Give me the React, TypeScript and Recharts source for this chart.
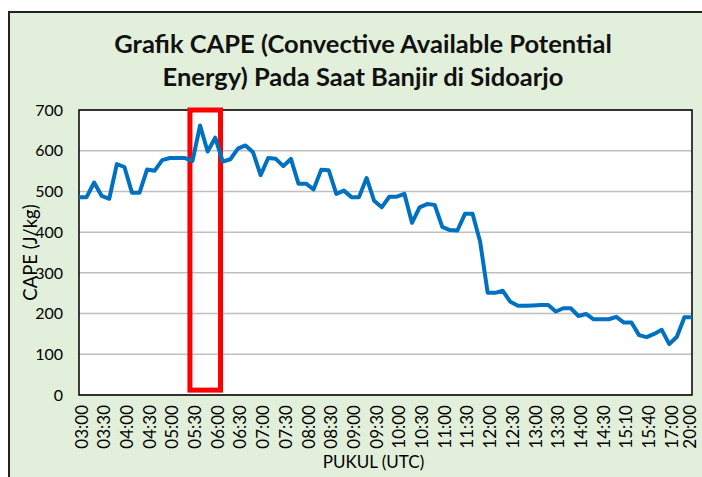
import React from 'react';
import { LineChart, Line, XAxis, YAxis, CartesianGrid, ReferenceArea, Label } from 'recharts';

// 10-minute steps until 14:30, irregular afterwards (only every 3rd one is labelled)
const times = [
  '03:00', '03:10', '03:20', '03:30', '03:40', '03:50', '04:00', '04:10', '04:20', '04:30',
  '04:40', '04:50', '05:00', '05:10', '05:20', '05:30', '05:40', '05:50', '06:00', '06:10',
  '06:20', '06:30', '06:40', '06:50', '07:00', '07:10', '07:20', '07:30', '07:40', '07:50',
  '08:00', '08:10', '08:20', '08:30', '08:40', '08:50', '09:00', '09:10', '09:20', '09:30',
  '09:40', '09:50', '10:00', '10:10', '10:20', '10:30', '10:40', '10:50', '11:00', '11:10',
  '11:20', '11:30', '11:40', '11:50', '12:00', '12:10', '12:20', '12:30', '12:40', '12:50',
  '13:00', '13:10', '13:20', '13:30', '13:40', '13:50', '14:00', '14:10', '14:20', '14:30',
  '14:40', '14:50', '15:10', '15:20', '15:30', '15:40', '16:00', '16:30', '17:00', '18:00',
  '19:00', '20:00',
];

const cape = [
  486, 486, 522, 489, 482, 567, 560, 497, 497, 554,
  551, 577, 582, 582, 582, 575, 662, 598, 632, 573,
  579, 605, 613, 596, 540, 582, 580, 562, 580, 519,
  519, 505, 553, 552, 494, 502, 486, 486, 533, 477,
  461, 487, 487, 494, 423, 461, 469, 467, 413, 405,
  404, 445, 445, 377, 251, 251, 256, 229, 219, 219,
  220, 221, 221, 205, 213, 213, 194, 199, 186, 186,
  186, 192, 178, 178, 147, 142, 150, 160, 125, 143,
  191, 191,
];

const yTicks = [0, 100, 200, 300, 400, 500, 600, 700];

// highlighted window (05:30 - 06:00)
const boxFrom = '05:30';
const boxTo = '06:00';

const data = times.map((t, i) => ({ time: t, cape: cape[i] }));

const FONT = 'Lato, "Open Sans", sans-serif';

function TimeTick({ x, y, payload }: any) {
  // small nudge right, but keep the last label inside the window
  const cx = Math.min(x + 2, 679);
  return (
    <text
      x={cx}
      y={y}
      transform={`rotate(-90, ${cx}, ${y})`}
      textAnchor="end"
      dominantBaseline="central"
      fontSize={17}
      fontFamily={FONT}
      fill="#000"
    >
      {payload.value}
    </text>
  );
}

function HighlightBox(props: any) {
  const { x, y, width, height } = props;
  return (
    <rect x={x - 2.6} y={y} width={width + 7.9} height={height} fill="none" stroke="#FF0000" strokeWidth={5} />
  );
}

export default function App() {
  return (
    <div style={{ position: 'fixed', left: 8, top: 11, width: 694, height: 466, overflow: 'hidden' }}>
      <div
        style={{
          position: 'relative',
          width: 720,
          height: 520,
          border: '2px solid #222',
          background: '#E2EFDA',
          fontFamily: FONT,
        }}
      >
        <div
          style={{
            position: 'absolute',
            left: 0,
            top: 14,
            width: 706,
            textAlign: 'center',
            fontSize: 25.5,
            fontWeight: 700,
            lineHeight: '33px',
            color: '#111',
          }}
        >
          Grafik CAPE (Convective Available Potential
          <br />
          Energy) Pada Saat Banjir di Sidoarjo
        </div>
        <div style={{ position: 'absolute', left: 0, top: 0 }}>
          <LineChart width={700} height={464} data={data} margin={{ top: 97, right: 18, left: 0, bottom: 22 }}>
            <CartesianGrid vertical={false} stroke="#BFBFBF" strokeWidth={1.5} fill="#FFFFFF" />
            <XAxis
              dataKey="time"
              interval={2}
              height={60}
              tickSize={0}
              tickMargin={10}
              axisLine={false}
              tick={<TimeTick />}
            >
              <Label
                value="PUKUL (UTC)"
                position="bottom"
                offset={1}
                dx={-12}
                fontSize={17}
                fontFamily={FONT}
                fill="#000"
              />
            </XAxis>
            <YAxis
              domain={[0, 700]}
              ticks={yTicks}
              width={69}
              tickSize={0}
              tickMargin={16}
              axisLine={false}
              tick={{ fontSize: 16, fontFamily: FONT, fill: '#000' }}
            >
              <Label
                value="CAPE (J/kg)"
                angle={-90}
                position="center"
                dx={-14}
                fontSize={18.5}
                fontFamily={FONT}
                fill="#000"
              />
            </YAxis>
            <ReferenceArea
              x1={times[0]}
              x2={times[times.length - 1]}
              y1={0}
              y2={700}
              fill="none"
              fillOpacity={0}
              stroke="#000"
              strokeWidth={1.5}
            />
            <Line
              type="linear"
              dataKey="cape"
              stroke="#0070C0"
              strokeWidth={4}
              strokeLinejoin="round"
              dot={false}
              activeDot={false}
              isAnimationActive={false}
            />
            <ReferenceArea x1={boxFrom} x2={boxTo} y1={12} y2={700} shape={<HighlightBox />} />
          </LineChart>
        </div>
      </div>
    </div>
  );
}
